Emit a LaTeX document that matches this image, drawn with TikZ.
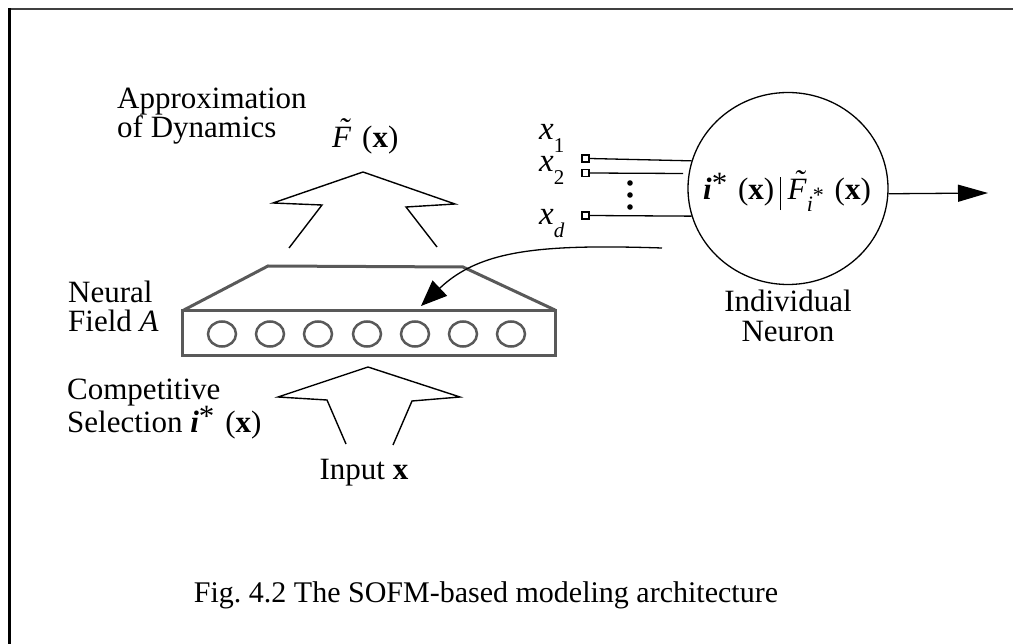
\documentclass[tikz,border=0pt]{standalone}
\usepackage{fontspec}
\setmainfont{Liberation Serif}
\usetikzlibrary{arrows.meta,shapes.geometric}
\frenchspacing

% italic F with a tilde above it
\newcommand{\Ftil}{\textit{F}\llap{\raisebox{0.27em}{\textit{\char"02DC}}\kern0.02em}}
% bold italic i with a star
\newcommand{\istar}{\textbf{\textit{i}}\raisebox{0.22em}{*}}
% small i* used as a subscript
\newcommand{\subistar}{\raisebox{-0.36em}{\fontsize{22}{22}\selectfont\textit{i}\raisebox{0.4em}{*}}}
% small subscript for the inputs
\newcommand{\insub}[1]{\raisebox{-0.38em}{\fontsize{21}{21}\selectfont #1}}
% tall thin separator inside the neuron
\newcommand{\sepbar}{\rule[-0.33em]{0.9pt}{1.07em}}

\begin{document}
\begin{tikzpicture}[x=1pt,y=-1pt,
  lbl/.style={inner sep=0pt, font=\fontsize{31}{29}\selectfont},
  inlbl/.style={inner sep=0pt, font=\fontsize{33}{33}\selectfont},
  field/.style={draw=black!65, line width=3pt},
  cell/.style={draw=black!65, line width=2.5pt, ellipse, minimum width=28pt, minimum height=25pt, inner sep=0pt},
  bigarrow/.style={draw=black, line width=1.4pt, line join=miter},
  port/.style={draw=black, fill=white, line width=1.2pt, minimum size=7pt, inner sep=0pt},
  wire/.style={draw=black, line width=1.3pt},
]
\useasboundingbox (0,0) rectangle (1013,644);

% outer frame (only left and top edges lie inside the page)
\draw[black!75, line width=2.5pt] (9,9) -- (1013,9);
\draw[black, line width=3pt] (9,644) -- (9,8);

% neural field A
\draw[field, line join=miter] (182,311) -- (268,266) -- (463,267) -- (555,310);
\node[field, minimum width=373pt, minimum height=45pt, inner sep=0pt] (field) at (368.5,333.5) {};
\foreach \k/\cx in {1/222,2/270,3/318,4/367,5/415,6/463,7/511}
  \node[cell] (c\k) at (\cx,334) {};

% hollow arrow: field -> approximation
\draw[bigarrow] (289,248) -- (322,205) -- (273,203) -- (363,172) -- (455,204) -- (406,207) -- (437,247);
% hollow arrow: input -> field
\draw[bigarrow] (346,444) -- (327,400) -- (278,397) -- (368,367) -- (460,397) -- (412,401) -- (393,445);

% individual neuron
\node[draw, ellipse, line width=1.3pt, minimum width=200pt, minimum height=192pt, inner sep=0pt] (neuron) at (788,188.5) {};
\node[lbl, anchor=base] (rule) at (787,200)
  {\istar\hspace{0.35em}(\textbf{x})\hspace{0.2em}\sepbar\hspace{0.2em}\Ftil\subistar\hspace{0.35em}(\textbf{x})};

% inputs x_1 ... x_d
\node[port] (p1) at (585.5,158.5) {};
\node[port] (p2) at (585.5,173) {};
\node[port] (p3) at (585.5,215.5) {};
\coordinate (w2) at (683,173.5);
\draw[wire] (p1.east) -- (neuron.164);
\draw[wire] (p2.east) -- (w2);
\draw[wire] (p3.east) -- (neuron.196);
\fill (630,183) circle (2.8);
\fill (630,195) circle (2.8);
\fill (630,207) circle (2.8);

\node[inlbl, anchor=base west] (x1) at (539,140) {\textit{x}\insub{1}};
\node[inlbl, anchor=base west] (x2) at (539,172) {\textit{x}\insub{2}};
\node[inlbl, anchor=base west] (xd) at (539,225) {\textit{x}\insub{\textit{d}}};

% output of the neuron
\coordinate (out) at (988,193);
\draw[wire, -{Triangle[length=30pt,width=17pt]}] (neuron.-3) -- (out);

% feedback of the winner to the field
\coordinate (fb) at (662,248);
\coordinate (fbend) at (421,306);
\draw[wire, -{Triangle[length=26pt,width=21pt]}] (fb) .. controls (540,244) and (480,250) .. (fbend);

% labels
\node[lbl, anchor=base west] (ap1) at (117,109) {Approximation};
\node[lbl, anchor=base west] (ap2) at (117,138) {of Dynamics};
\node[lbl, anchor=base west] (fx) at (332,148) {\Ftil\hspace{0.35em}(\textbf{x})};
\node[lbl, anchor=base west] (nf1) at (68,303) {Neural};
\node[lbl, anchor=base west] (nf2) at (68,332) {Field \textit{A}};
\node[lbl, anchor=base west] (cs1) at (67,400) {Competitive};
\node[lbl, anchor=base west] (cs2) at (67,433) {Selection \istar\hspace{0.35em}(\textbf{x})};
\node[lbl, anchor=base] (inp) at (364,479) {Input \textbf{x}};
\node[lbl, anchor=base] (ind1) at (788,312) {Individual};
\node[lbl, anchor=base] (ind2) at (788,342) {Neuron};

% caption
\node[inner sep=0pt, anchor=base, font=\fontsize{30}{30}\selectfont] (cap) at (486,602)
  {Fig. 4.2 The SOFM-based modeling architecture};
\end{tikzpicture}
\end{document}
